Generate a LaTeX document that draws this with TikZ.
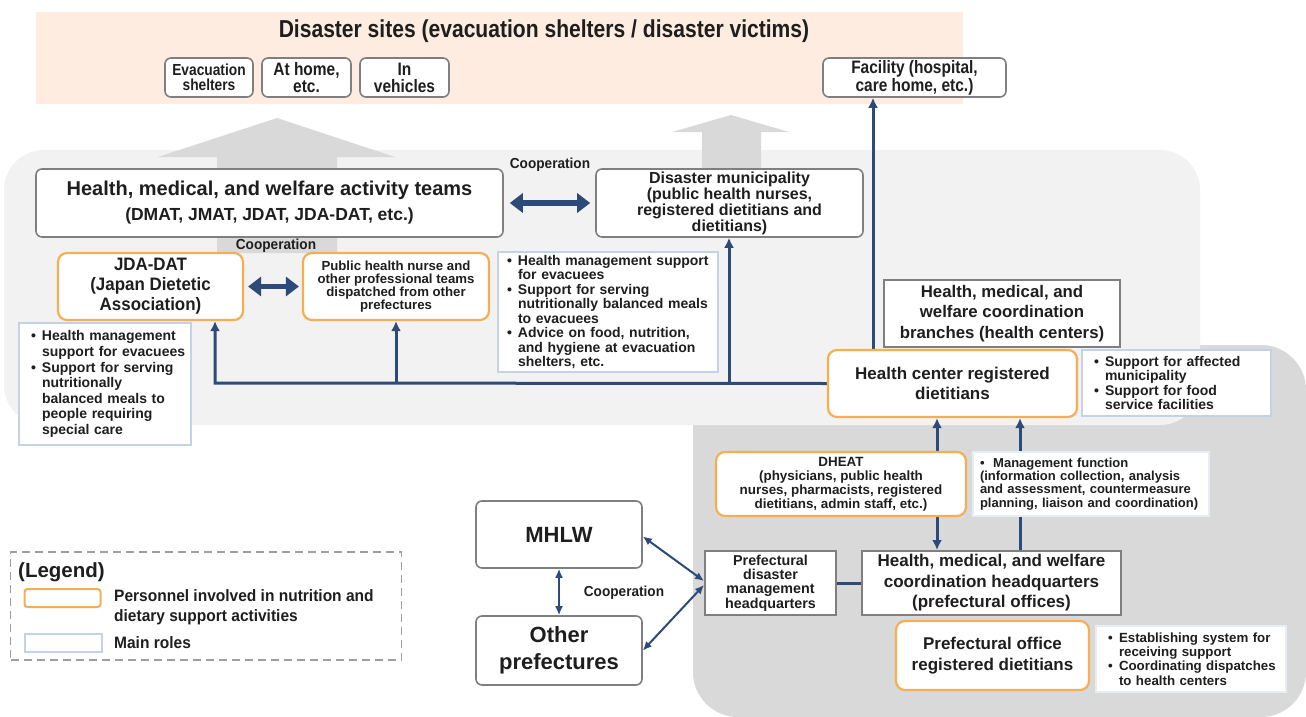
\documentclass[tikz,border=0pt]{standalone}
\usepackage{fontspec}
\setmainfont{Liberation Sans}
\newfontfamily\nar{Liberation Sans}[FakeStretch=0.86]
\newfontfamily\semi{Liberation Sans}[FakeStretch=0.94]
\newfontfamily\reg{Liberation Sans}
\usetikzlibrary{arrows.meta}
\definecolor{peach}{HTML}{FDECDF}
\definecolor{lgray}{HTML}{F2F2F2}
\definecolor{dgray}{HTML}{D9D9D9}
\definecolor{agray}{HTML}{D9D9D9}
\definecolor{bgray}{HTML}{7F7F7F}
\definecolor{orng}{HTML}{F5AE52}
\definecolor{lblue}{HTML}{C4D2E8}
\definecolor{navy}{HTML}{2D4A78}
\definecolor{txt}{HTML}{1E1E1E}
\newcommand\fs[2]{\fontsize{#1}{#2}\selectfont}
\newcommand\li[1]{\mbox{\makebox[11pt][l]{•}#1}}
\newcommand\lc[1]{\mbox{\hspace*{11pt}#1}}
\pgfdeclarelayer{bg}
\pgfdeclarelayer{lines}
\pgfsetlayers{bg,lines,main}
\begin{document}
\begin{tikzpicture}[x=1pt,y=-1pt,
  every node/.style={text=txt, align=center, inner sep=2pt},
  gbox/.style={draw=bgray, line width=1.6pt, rounded corners=6pt, fill=white},
  sbox/.style={draw=bgray, line width=2pt, fill=white},
  obox/.style={draw=orng, line width=2.2pt, rounded corners=9pt, fill=white},
  lbox/.style={draw=lblue, line width=1.6pt, fill=white, align=left},
  conn/.style={draw=navy, line width=3pt},
  arr/.style={-{Latex[length=10pt,width=10pt]}},
  dbl/.style={draw=navy, line width=5.5pt, {Triangle[length=13pt,width=19pt]}-{Triangle[length=13pt,width=19pt]}},
  thin2/.style={draw=navy, line width=2pt, {Latex[length=9pt,width=8pt]}-{Latex[length=9pt,width=8pt]}},
  lab/.style={font=\bfseries\semi\fs{14.5}{16}}
]
\useasboundingbox (0,0) rectangle (1306,717);
\begin{pgfonlayer}{bg}
\fill[peach] (36,12) rectangle (963,104);
\fill[dgray, rounded corners=45pt] (693,345) rectangle (1306,717);
\fill[lgray, rounded corners=40pt] (4,150) rectangle (1200,425);
\fill[agray] (217,253) -- (217,157) -- (158,157) -- (277,118) -- (395,157) -- (337,157) -- (337,253) -- cycle;
\fill[agray] (702,169) -- (702,132) -- (672,132) -- (731,115) -- (789,132) -- (761,132) -- (761,169) -- cycle;
\end{pgfonlayer}

\node[font=\bfseries\nar\fs{24.5}{28}] (title) at (544,31) {Disaster sites (evacuation shelters / disaster victims)};
\node[gbox, minimum width=88pt, minimum height=39pt, font=\bfseries\nar\fs{16}{15}] (evac) at (209,77.5) {Evacuation\\shelters};
\node[gbox, minimum width=89pt, minimum height=39pt, font=\bfseries\nar\fs{18}{17}] (home) at (306.5,77.5) {At home,\\etc.};
\node[gbox, minimum width=89pt, minimum height=39pt, font=\bfseries\nar\fs{18}{17}] (veh) at (404.5,77.5) {In\\vehicles};
\node[gbox, minimum width=183pt, minimum height=39pt, font=\bfseries\nar\fs{18}{18}] (fac) at (914.5,77.5) {Facility (hospital,\\care home, etc.)};

\node[gbox, minimum width=467pt, minimum height=68pt, font=\bfseries\reg\fs{17.5}{25}] (hmw) at (269.5,203) {\fs{20}{25}Health, medical, and welfare activity teams\\(DMAT, JMAT, JDAT, JDA-DAT, etc.)};
\node[gbox, minimum width=267pt, minimum height=68pt, font=\bfseries\reg\fs{16}{14.5}] (muni) at (729.5,203) {Disaster municipality\\(public health nurses,\\registered dietitians and\\dietitians)};
\node[lab] (coop1) at (550,165) {Cooperation};
\node[lab] (coop2) at (276,246) {Cooperation};

\node[obox, minimum width=185pt, minimum height=67pt, font=\bfseries\semi\fs{18}{20}] (jda) at (150.5,286.5) {JDA-DAT\\(Japan Dietetic\\Association)};
\node[obox, minimum width=186pt, minimum height=67pt, font=\bfseries\reg\fs{13.2}{13}] (phn) at (396,286.5) {Public health nurse and\\other professional teams\\dispatched from other\\prefectures};
\node[lbox, minimum width=220pt, minimum height=120pt, inner xsep=9pt, text width=202pt, font=\bfseries\reg\fs{14}{14.5}] (midlist) at (608,312) {\li{Health management support}\\\lc{for evacuees}\\\li{Support for serving}\\\lc{nutritionally  balanced meals}\\\lc{to evacuees}\\\li{Advice on food, nutrition,}\\\lc{and hygiene at evacuation}\\\lc{shelters, etc.}};
\node[lbox, minimum width=172pt, minimum height=122pt, inner xsep=12pt, text width=148pt, font=\bfseries\reg\fs{14}{15.6}] (leftlist) at (105,384) {\li{Health management}\\\lc{support for evacuees}\\\li{Support for serving}\\\lc{nutritionally}\\\lc{balanced meals to}\\\lc{people requiring}\\\lc{special care}};

\node[sbox, minimum width=236pt, minimum height=67pt, font=\bfseries\reg\fs{16.8}{20.5}] (branch) at (1002,313.5) {Health, medical, and\\welfare coordination\\branches (health centers)};
\node[obox, minimum width=249pt, minimum height=67pt, font=\bfseries\reg\fs{17}{20}] (hcrd) at (952.5,383.5) {Health center registered\\dietitians};
\node[lbox, minimum width=189pt, minimum height=66pt, inner xsep=12pt, text width=165pt, font=\bfseries\reg\fs{14}{14.5}] (rlist) at (1176.5,383) {\li{Support for affected}\\\lc{municipality}\\\li{Support for food}\\\lc{service facilities}};

\node[obox, minimum width=250pt, minimum height=64pt, font=\bfseries\reg\fs{13.4}{14}] (dheat) at (841,484) {DHEAT\\(physicians, public health\\nurses, pharmacists, registered\\dietitians, admin staff, etc.)};
\node[lbox, draw=lblue!40, minimum width=236pt, minimum height=64pt, inner xsep=7pt, text width=222pt, font=\bfseries\reg\fs{13}{13.2}] (mgmt) at (1091,484) {\mbox{•\ \ Management function}\\\mbox{(information collection, analysis}\\\mbox{and assessment, countermeasure}\\\mbox{planning, liaison and coordination)}};
\node[sbox, minimum width=131pt, minimum height=64pt, font=\bfseries\reg\fs{14.3}{14.3}] (pdmh) at (770.5,583) {Prefectural\\disaster\\management\\headquarters};
\node[sbox, minimum width=259pt, minimum height=64pt, font=\bfseries\reg\fs{17}{20.5}] (hq) at (991.5,583) {Health, medical, and welfare\\coordination headquarters\\(prefectural offices)};
\node[obox, minimum width=193pt, minimum height=69pt, font=\bfseries\reg\fs{17}{21}] (pord) at (992.5,655.5) {Prefectural office\\registered dietitians};
\node[lbox, draw=lblue!40, minimum width=190pt, minimum height=66pt, inner xsep=12pt, text width=166pt, font=\bfseries\reg\fs{13.3}{14.4}] (blist) at (1191,659) {\li{Establishing system for}\\\lc{receiving support}\\\li{Coordinating dispatches}\\\lc{to health centers}};

\node[gbox, minimum width=166pt, minimum height=67pt, font=\bfseries\reg\fs{22}{26}] (mhlw) at (559,534.5) {MHLW};
\node[gbox, minimum width=166pt, minimum height=69pt, font=\bfseries\reg\fs{22}{27}] (other) at (559,650.5) {Other\\prefectures};
\node[lab] (coop3) at (624,593) {Cooperation};

\node[draw=gray!75, line width=1.6pt, dash pattern=on 8pt off 5pt, minimum width=391pt, minimum height=108pt] (legend) at (206,606) {};
\node[anchor=west, font=\bfseries\reg\fs{20.5}{22}] (legt) at (16,572) {(Legend)};
\node[draw=orng, line width=2pt, rounded corners=3pt, minimum width=76pt, minimum height=18pt] (lego) at (62.5,598) {};
\node[draw=lblue, line width=2pt, minimum width=77pt, minimum height=18pt] (legb) at (63,642.5) {};
\node[anchor=west, align=left, font=\bfseries\semi\fs{16.5}{20}] (legot) at (112,607) {Personnel involved in nutrition and\\dietary support activities};
\node[anchor=west, font=\bfseries\semi\fs{16.5}{18}] (legbt) at (112,643) {Main roles};

\begin{pgfonlayer}{lines}
\coordinate (bus1) at (215,383);
\coordinate (bus2) at (396,383);
\coordinate (bus3) at (729,383);
\coordinate (f0) at (873,350);
\coordinate (d0) at (937,452);
\coordinate (d1) at (937,516);
\coordinate (m0) at (1020,551);
\draw[conn, arr] (hcrd.west) -- (bus1) -- (bus1 |- jda.south);
\draw[conn, arr] (bus2) -- (phn.south);
\draw[conn, arr] (bus3) -- (bus3 |- muni.south);
\draw[conn, arr] (f0) -- (f0 |- fac.south);
\draw[conn, arr] (d0) -- (d0 |- hcrd.south);
\draw[conn, arr] (d1) -- (d1 |- hq.north);
\draw[conn, arr] (m0) -- (m0 |- hcrd.south);
\draw[conn] (pdmh.east) -- (hq.west);
\draw[dbl] ([xshift=6pt]hmw.east) -- ([xshift=-5pt]muni.west);
\draw[dbl] ([xshift=4pt]jda.east) -- ([xshift=-3pt]phn.west);
\draw[thin2] ([yshift=-2pt]mhlw.east) -- ([yshift=2pt]pdmh.west);
\draw[thin2] (other.east) -- ([yshift=-2pt]pdmh.west);
\draw[thin2] (mhlw.south) -- (other.north);
\end{pgfonlayer}
\end{tikzpicture}
\end{document}
